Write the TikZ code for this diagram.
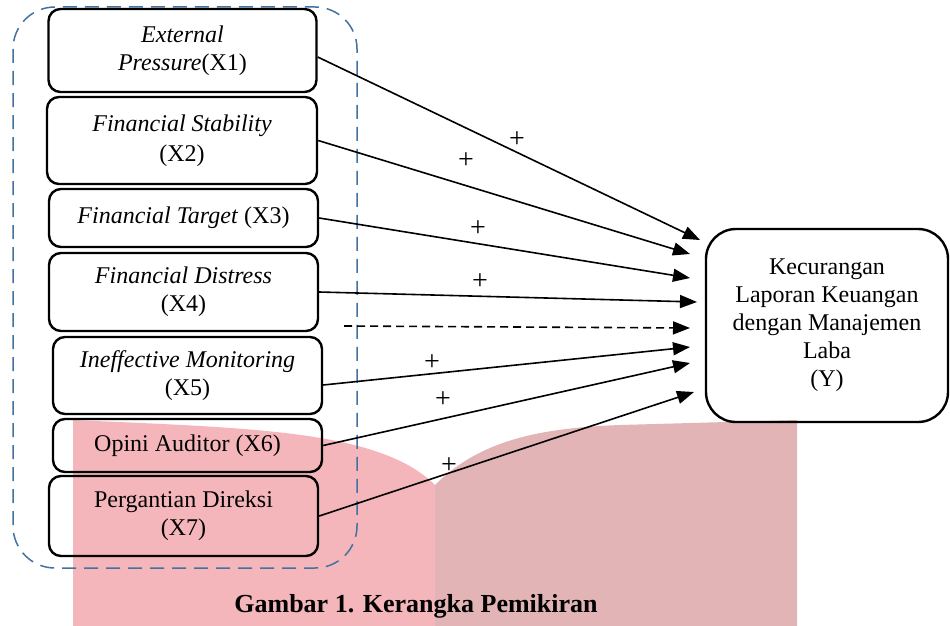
\documentclass[tikz,border=0pt]{standalone}
\usepackage{fontspec}
\setmainfont{Liberation Serif}
\usetikzlibrary{arrows.meta}
\definecolor{pk_left}{RGB}{245,182,187}
\definecolor{pk_right}{RGB}{226,180,181}
\definecolor{grp_blue}{RGB}{68,114,160}
\tikzstyle{xn}=[draw=black,rounded corners=12pt,line width=2.4pt,inner sep=0pt,
  minimum width=268pt,align=center,font=\fontsize{24}{28}\selectfont]
\tikzstyle{yn}=[draw=black,rounded corners=30pt,line width=2.4pt,inner sep=0pt,
  minimum width=242pt,minimum height=193pt,align=center,font=\fontsize{24}{28}\selectfont]
\tikzstyle{arr}=[-{Triangle[length=17pt,width=13pt]},line width=1.6pt]
\tikzstyle{pl}=[inner sep=0pt,font=\fontsize{28}{28}\selectfont]

\begin{document}
\begin{tikzpicture}[x=1pt,y=-1pt]
    \useasboundingbox (0,0) rectangle (950,626);
    % background watermark
    \fill[pk_left] (73,420) .. controls (250,428) and (380,430) .. (435,485)
      -- (435,626) -- (73,626) -- cycle;
    \fill[pk_right] (435,485) .. controls (480,440) and (540,428) .. (620,425)
      -- (797,420) -- (797,626) -- (435,626) -- cycle;
    % group of independent variables
    \draw[grp_blue,line width=1.5pt,dash pattern=on 14pt off 8pt,rounded corners=42pt]
      (13,7) rectangle (357,568);
    \node [style=xn,minimum height=83pt] (x1) at (182.5,50.5) {\textit{External}\\\textit{Pressure}(X1)};
    \node [style=xn,minimum height=87pt,minimum width=270pt,font=\fontsize{24}{30}\selectfont] (x2) at (182,140.5) {\textit{Financial Stability}\\(X2)};
    \node [style=xn,minimum height=58pt,minimum width=269pt] (x3) at (183.5,218) {\textit{Financial Target} (X3)};
    \node [style=xn,minimum height=78pt,minimum width=269pt] (x4) at (183.5,292) {\raisebox{-6pt}{\begin{tabular}{@{}c@{}}\textit{Financial Distress}\\(X4)\end{tabular}}};
    \node [style=xn,minimum height=77pt,minimum width=269pt] (x5) at (187.5,375.5) {\raisebox{-3pt}{\begin{tabular}{@{}c@{}}\textit{Ineffective Monitoring}\\(X5)\end{tabular}}};
    \node [style=xn,minimum height=53pt,minimum width=269pt] (x6) at (187.5,445.5) {Opini Auditor (X6)};
    \node [style=xn,minimum height=80pt,minimum width=269pt] (x7) at (183.5,516) {Pergantian Direksi\\(X7)};
    \node [style=yn] (y) at (827,325.5) {Kecurangan\\Laporan Keuangan\\dengan Manajemen\\Laba\\(Y)};
    % arrow tips
    \coordinate (t1) at (700,240);
    \coordinate (t2) at (690,254);
    \coordinate (t3) at (690,278);
    \coordinate (t4) at (697,302);
    \coordinate (d0) at (344,326);
    \coordinate (td) at (690,328);
    \coordinate (t5) at (690,347);
    \coordinate (t6) at (690,363);
    \coordinate (t7) at (694,392);
    \draw [style=arr] ([yshift=-6.5pt]x1.east) to (t1);
    \draw [style=arr] (x2.east) to (t2);
    \draw [style=arr] (x3.east) to (t3);
    \draw [style=arr] (x4.east) to (t4);
    \draw [style=arr,dash pattern=on 8pt off 5pt] (d0) to (td);
    \draw [style=arr] ([yshift=-9.5pt]x5.east) to (t5);
    \draw [style=arr] (x6.east) to (t6);
    \draw [style=arr] (x7.east) to (t7);
    \node [style=pl] (p1) at (517,140) {+};
    \node [style=pl] (p2) at (466,161) {+};
    \node [style=pl] (p3) at (478,229) {+};
    \node [style=pl] (p4) at (480,282) {+};
    \node [style=pl] (p5) at (432,363) {+};
    \node [style=pl] (p6) at (443,400) {+};
    \node [style=pl] (p7) at (449,466) {+};
    \node [font=\fontsize{26}{30}\selectfont\bfseries] (cap) at (416,606) {Gambar 1. Kerangka Pemikiran};
  \end{tikzpicture}
\end{document}
